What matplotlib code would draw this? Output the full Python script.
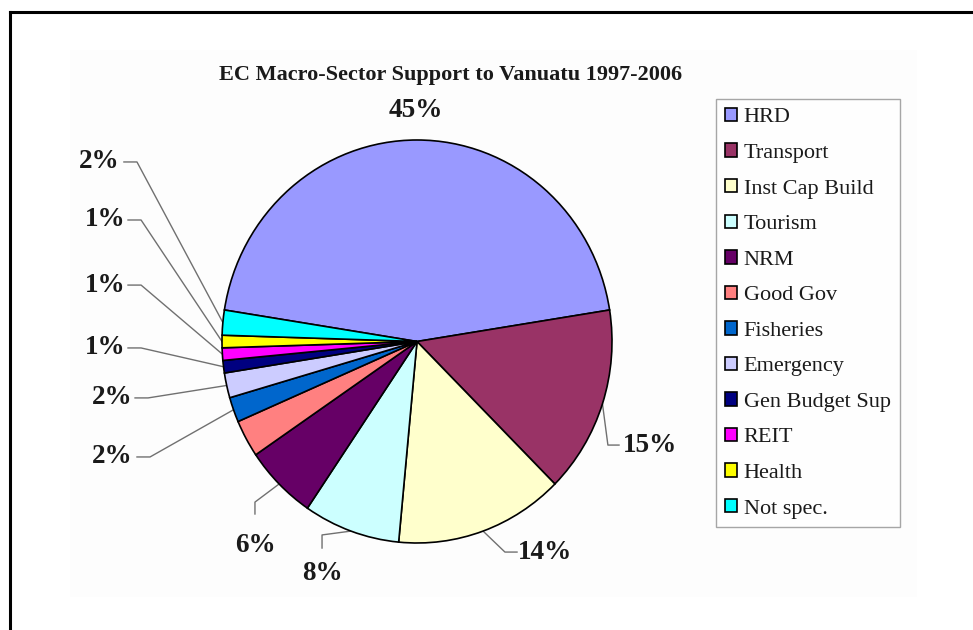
import numpy as np
import matplotlib
matplotlib.use("Agg")
import matplotlib.pyplot as plt
from matplotlib.patches import Patch, Rectangle
from matplotlib.lines import Line2D

# Sector shares (%)
sectors = ["HRD", "Transport", "Inst Cap Build", "Tourism", "NRM", "Good Gov",
           "Fisheries", "Emergency", "Gen Budget Sup", "REIT", "Health", "Not spec."]
shares = [45, 15, 14, 8, 6, 3, 2, 2, 1, 1, 1, 2]
show_label = [True, True, True, True, True, False, True, True, True, True, True, True]
colors = ["#9999FF", "#993366", "#FFFFCC", "#CCFFFF", "#660066", "#FF8080",
          "#0066CC", "#CCCCFF", "#000080", "#FF00FF", "#FFFF00", "#00FFFF"]
title = "EC Macro-Sector Support to Vanuatu 1997-2006"

# Label layout in pie-radius units: text centre, elbow of leader, end of leader at text
label_layout = {
    "HRD":            ((-0.005, 1.144), None, None),
    "Transport":      ((1.195, -0.514), (0.979, -0.514), (1.036, -0.514)),
    "Inst Cap Build": ((0.656, -1.045), (0.451, -1.045), (0.513, -1.045)),
    "Tourism":        ((-0.487, -1.149), (-0.487, -0.960), (-0.487, -1.025)),
    "NRM":            ((-0.831, -1.010), (-0.831, -0.797), (-0.831, -0.856)),
    "Fisheries":      ((-1.564, -0.573), (-1.369, -0.573), (-1.436, -0.573)),
    "Emergency":      ((-1.564, -0.280), (-1.379, -0.280), (-1.446, -0.280)),
    "Gen Budget Sup": ((-1.600, -0.032), (-1.415, -0.032), (-1.482, -0.032)),
    "REIT":           ((-1.600, 0.280), (-1.415, 0.280), (-1.482, 0.280)),
    "Health":         ((-1.600, 0.603), (-1.415, 0.603), (-1.482, 0.603)),
    "Not spec.":      ((-1.631, 0.891), (-1.436, 0.891), (-1.503, 0.891)),
}

serif = ["Liberation Serif", "DejaVu Serif"]
plt.rcParams["font.family"] = serif

W, H = 973, 630
fig = plt.figure(figsize=(W / 100, H / 100), dpi=100)
fig.patch.set_facecolor("white")

# faint chart area
fig.add_artist(Rectangle((70 / W, 1 - 597 / H), (917 - 70) / W, (597 - 50) / H,
                         transform=fig.transFigure, facecolor="#fdfdfd",
                         edgecolor="none", zorder=0))
# outer frame (top and left edges)
fig.add_artist(Line2D([10 / W, 1.0], [1 - 12 / H, 1 - 12 / H], transform=fig.transFigure,
                      color="black", lw=2.2))
fig.add_artist(Line2D([10 / W, 10 / W], [0, 1 - 12 / H], transform=fig.transFigure,
                      color="black", lw=2.2))

cx, cy, rx, ry = 417, 341.5, 195, 201.5
ax = fig.add_axes([(cx - rx) / W, (H - cy - ry) / H, 2 * rx / W, 2 * ry / H])
wedges, _ = ax.pie(shares, colors=colors, startangle=171, counterclock=False,
                   radius=1.0, wedgeprops=dict(edgecolor="black", linewidth=1.2))
ax.set_aspect("auto")
ax.set_xlim(-1, 1)
ax.set_ylim(-1, 1)
ax.axis("off")

for name, val, w, show in zip(sectors, shares, wedges, show_label):
    if not show:
        continue
    (tx, ty), knee, attach = label_layout[name]
    ax.text(tx, ty, f"{val}%", ha="center", va="center", fontsize=19.5,
            fontweight="bold", color="#1a1a1a", clip_on=False)
    if knee is not None:
        mid = np.deg2rad((w.theta1 + w.theta2) / 2)
        px, py = np.cos(mid), np.sin(mid)
        ax.plot([px, knee[0], attach[0]], [py, knee[1], attach[1]],
                color="#707070", lw=1.0, clip_on=False, zorder=0.5)

fig.text(451 / W, 1 - 75 / H, title, ha="center", va="center", fontsize=16,
         fontweight="bold", color="#1a1a1a")

handles = [Patch(facecolor=c, edgecolor="black", linewidth=1.2) for c in colors]
leg = fig.legend(handles, sectors, loc="upper left",
                 bbox_to_anchor=(716 / W, 1 - 99 / H), bbox_transform=fig.transFigure,
                 borderaxespad=0, fontsize=16, frameon=True, fancybox=False,
                 handlelength=0.55, handleheight=0.55, handletextpad=0.3,
                 labelspacing=0.72, borderpad=0.4)
leg.get_frame().set_edgecolor("#909090")
leg.get_frame().set_linewidth(1.0)
for t in leg.get_texts():
    t.set_color("#1a1a1a")

fig.savefig("out.png", dpi=100)
